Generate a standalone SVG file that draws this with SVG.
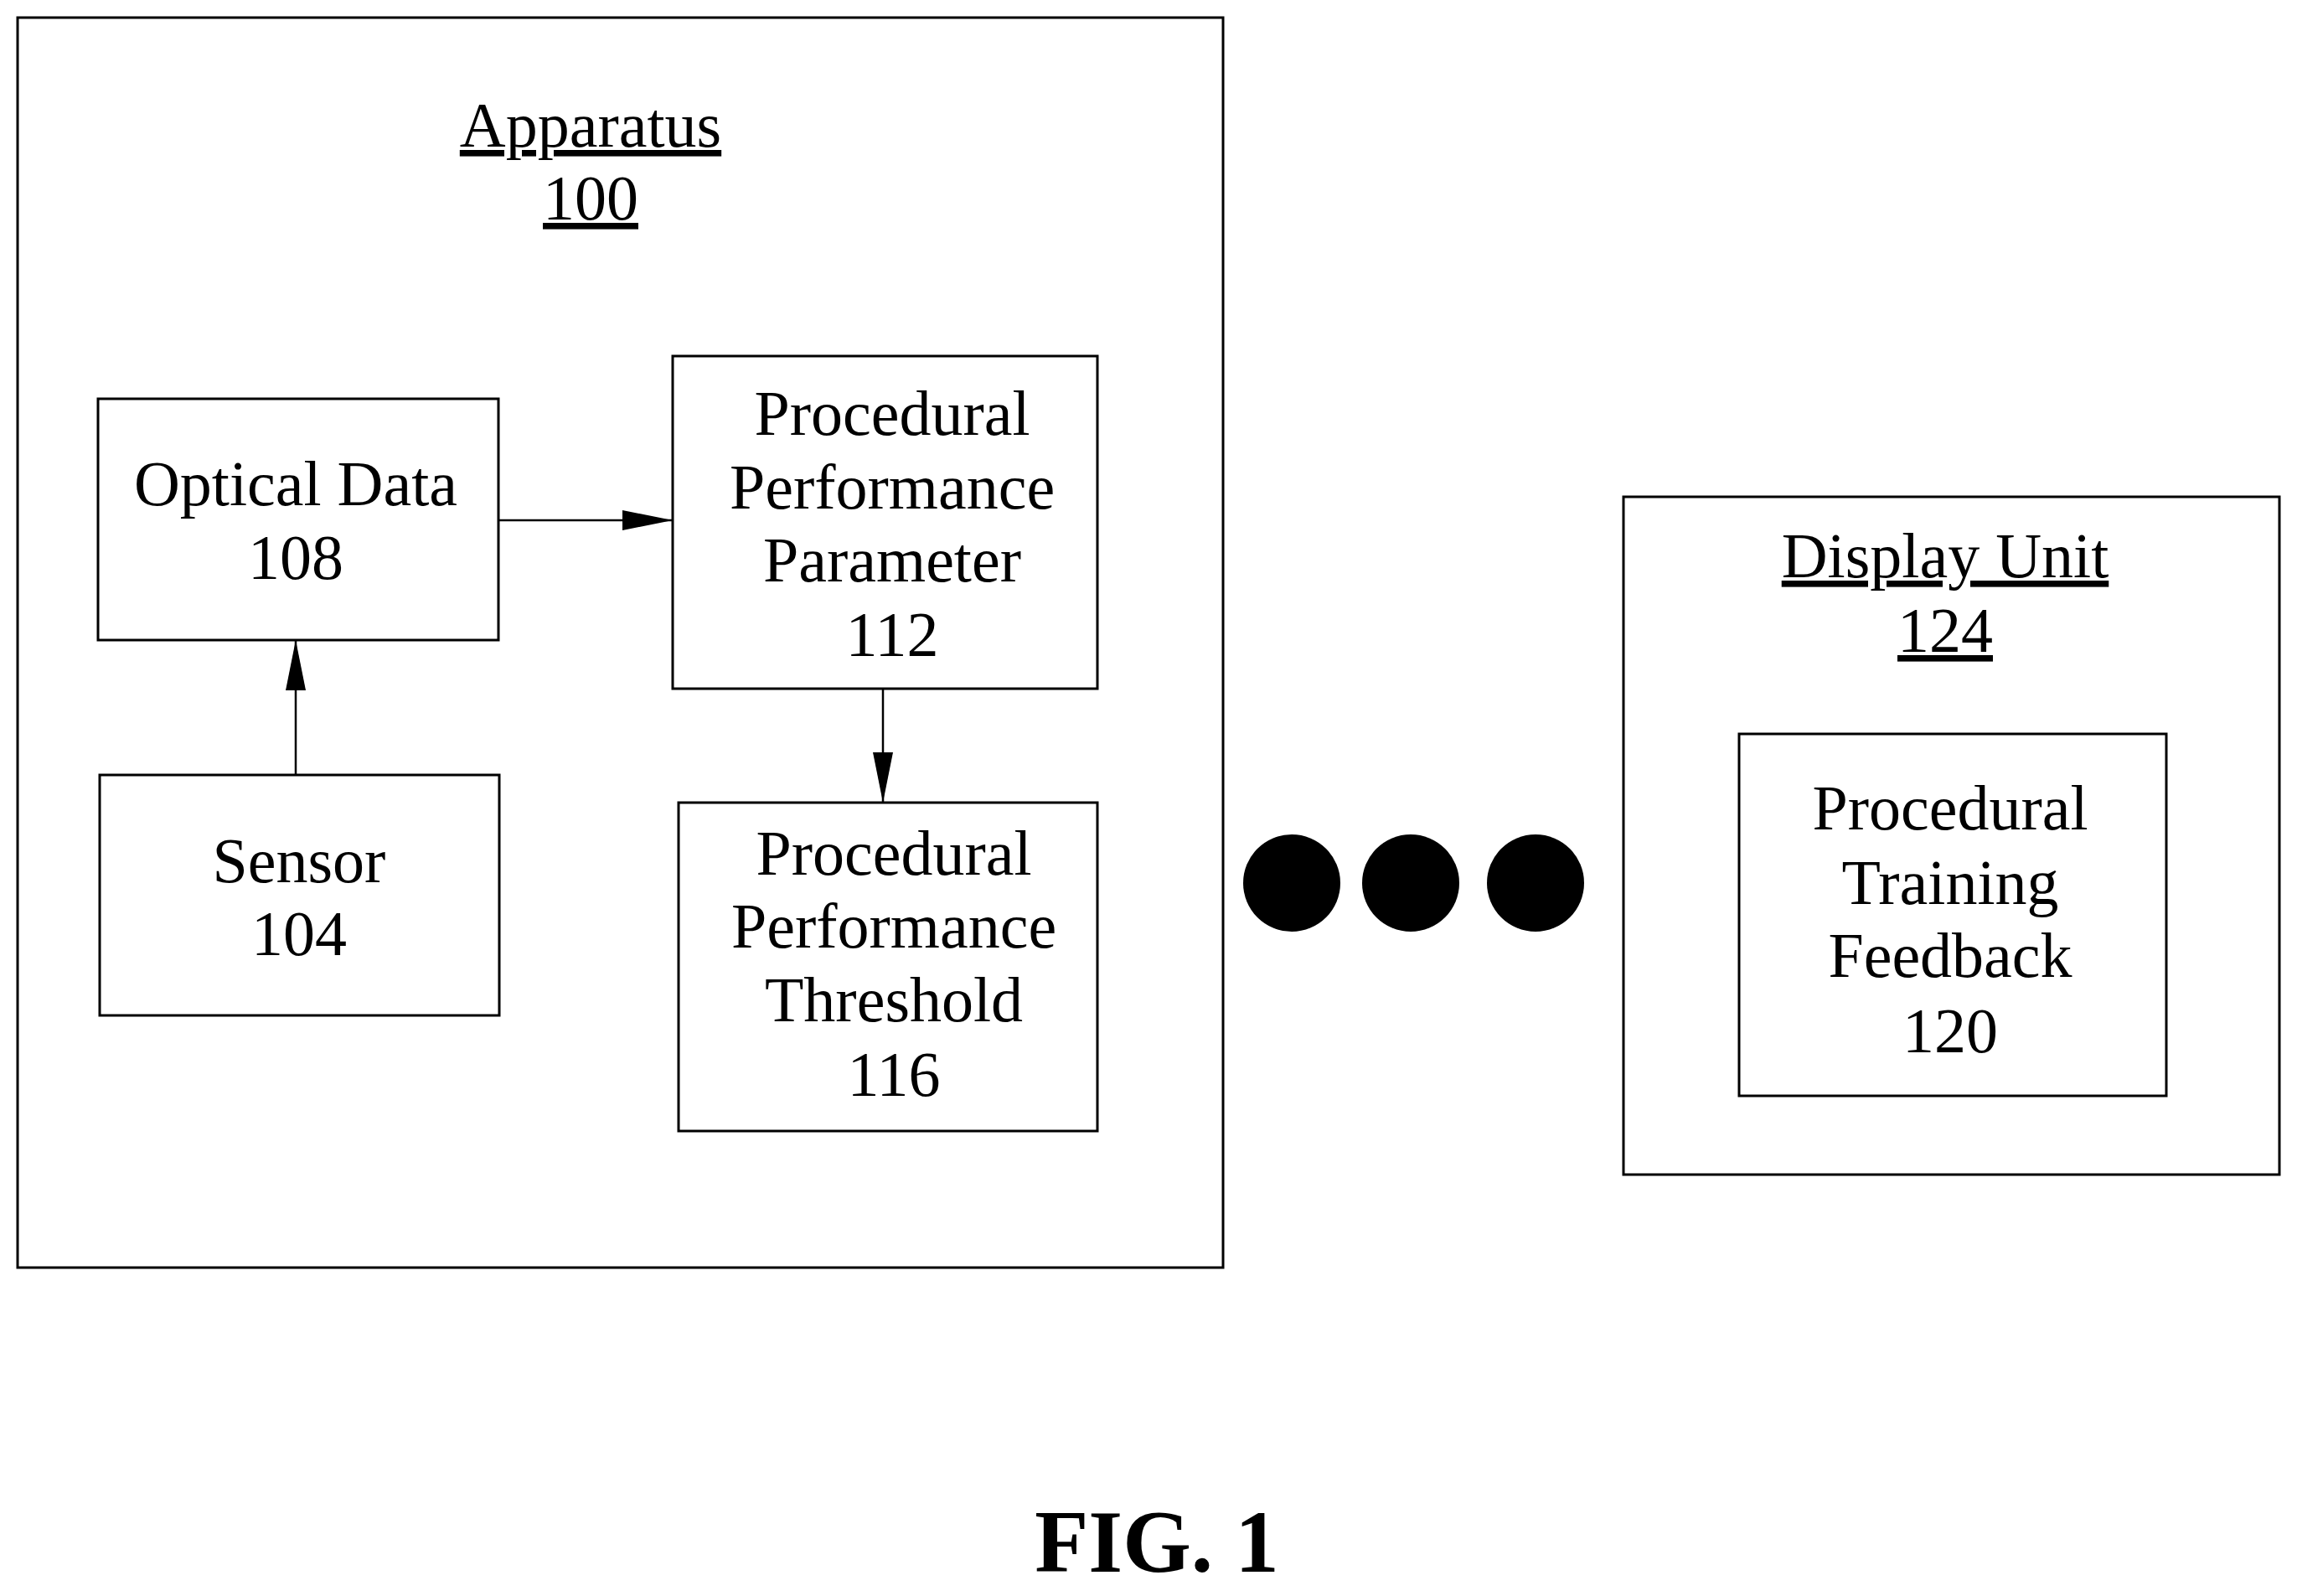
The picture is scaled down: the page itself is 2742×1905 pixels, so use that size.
<svg xmlns="http://www.w3.org/2000/svg" width="2742" height="1905" viewBox="0 0 2742 1905">
<style>
rect{fill:none;stroke:#000;stroke-width:3}
text{font-family:"Liberation Serif",serif;font-size:76px;text-anchor:middle;fill:#000}
.u{text-decoration:underline}
line{stroke:#000;stroke-width:2.5}
</style>
<defs><marker id="a" markerWidth="14" markerHeight="8" refX="14" refY="4" orient="auto" markerUnits="userSpaceOnUse" viewBox="0 0 14 8"><path d="M0,0L14,4L0,8z"/></marker>
<marker id="b" viewBox="0 0 60 24" refX="60" refY="12" markerWidth="60" markerHeight="24" orient="auto" markerUnits="userSpaceOnUse"><path d="M0,0L60,12L0,24z"/></marker></defs>
<rect width="2742" height="1905" style="fill:#fff;stroke:none"/>
<g id="apparatus"><rect x="21" y="21" width="1439" height="1492"/><text x="705" y="175" class="u">Apparatus</text><text x="705" y="262" class="u">100</text></g>
<g id="optical"><rect x="117" y="476" width="478" height="288"/><text x="353" y="603">Optical Data</text><text x="353" y="691">108</text></g>
<g id="sensor"><rect x="119" y="925" width="477" height="287"/><text x="357" y="1053">Sensor</text><text x="357" y="1140">104</text></g>
<g id="ppp"><rect x="803" y="425" width="507" height="397"/><text x="1065" y="519">Procedural</text><text x="1065" y="607">Performance</text><text x="1065" y="694">Parameter</text><text x="1065" y="783">112</text></g>
<g id="ppt"><rect x="810" y="958" width="500" height="392"/><text x="1067" y="1044">Procedural</text><text x="1067" y="1131">Performance</text><text x="1067" y="1219">Threshold</text><text x="1067" y="1308">116</text></g>
<g id="display"><rect x="1938" y="593" width="783" height="809"/><text x="2322" y="689" class="u">Display Unit</text><text x="2322" y="778" class="u">124</text></g>
<g id="ptf"><rect x="2076" y="876" width="510" height="432"/><text x="2328" y="990">Procedural</text><text x="2328" y="1079">Training</text><text x="2328" y="1166">Feedback</text><text x="2328" y="1256">120</text></g>
<g id="dots"><circle cx="1542" cy="1054" r="58"/><circle cx="1684" cy="1054" r="58"/><circle cx="1833" cy="1054" r="58"/></g>
<g id="connectors">
<line x1="595" y1="621" x2="803" y2="621" marker-end="url(#b)"/>
<line x1="353" y1="925" x2="353" y2="764" marker-end="url(#b)"/>
<line x1="1054" y1="822" x2="1054" y2="958" marker-end="url(#b)"/>
</g>
<text x="1381" y="1876" style="font-weight:bold;font-size:105px">FIG. 1</text>
</svg>
